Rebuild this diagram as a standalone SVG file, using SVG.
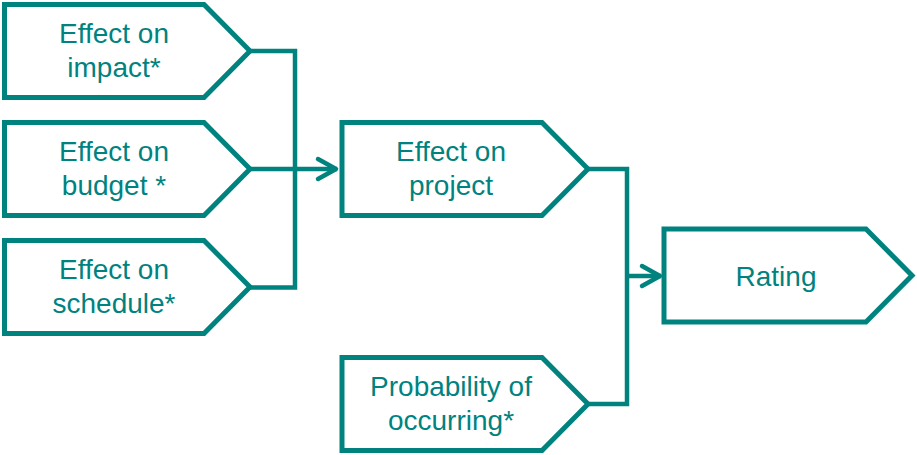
<svg xmlns="http://www.w3.org/2000/svg" width="917" height="455" viewBox="0 0 917 455">
<style>
.box{fill:#fff;stroke:#00837F;stroke-width:5;stroke-linejoin:miter}
.t{font-family:"Liberation Sans",Arial,sans-serif;font-size:28px;fill:#00837F;text-anchor:middle}
.c{fill:none;stroke:#00837F;stroke-width:4.5;stroke-linejoin:miter}
</style>
<defs>
<marker id="arr" viewBox="-22 -14 26 28" markerWidth="26" markerHeight="28" refX="1" refY="0" orient="auto" markerUnits="userSpaceOnUse">
<path d="M-18,-10 L0,0 L-18,10" fill="none" stroke="#00837F" stroke-width="4.5" stroke-linecap="round" stroke-linejoin="round"/>
</marker>
</defs>
<rect width="917" height="455" fill="#fff"/>
<g id="connectors">
<path class="c" d="M250,51 H295 V287.5 H250"/>
<path class="c" d="M250,169 H337" marker-end="url(#arr)"/>
<path class="c" d="M588,169 H627 V404 H588"/>
<path class="c" d="M627,276 H661" marker-end="url(#arr)"/>
</g>
<g id="impact">
<polygon class="box" points="4.5,4.5 204,4.5 250,51 204,97.5 4.5,97.5"/>
<text class="t" x="114" y="43">Effect on</text>
<text class="t" x="114" y="77">impact*</text>
</g>
<g id="budget">
<polygon class="box" points="4.5,122.5 204,122.5 250,169 204,215.5 4.5,215.5"/>
<text class="t" x="114" y="161">Effect on</text>
<text class="t" x="114" y="195">budget *</text>
</g>
<g id="schedule">
<polygon class="box" points="4.5,240.5 204,240.5 250,287 204,333.5 4.5,333.5"/>
<text class="t" x="114" y="279">Effect on</text>
<text class="t" x="114" y="313">schedule*</text>
</g>
<g id="project">
<polygon class="box" points="342,122.5 542,122.5 588,169 542,215.5 342,215.5"/>
<text class="t" x="451" y="161">Effect on</text>
<text class="t" x="451" y="195">project</text>
</g>
<g id="probability">
<polygon class="box" points="342,357.5 542,357.5 588,404 542,450.5 342,450.5"/>
<text class="t" x="451" y="396">Probability of</text>
<text class="t" x="451" y="430">occurring*</text>
</g>
<g id="rating">
<polygon class="box" points="664,229 866,229 912,275.5 866,322 664,322"/>
<text class="t" x="776" y="286">Rating</text>
</g>
</svg>
